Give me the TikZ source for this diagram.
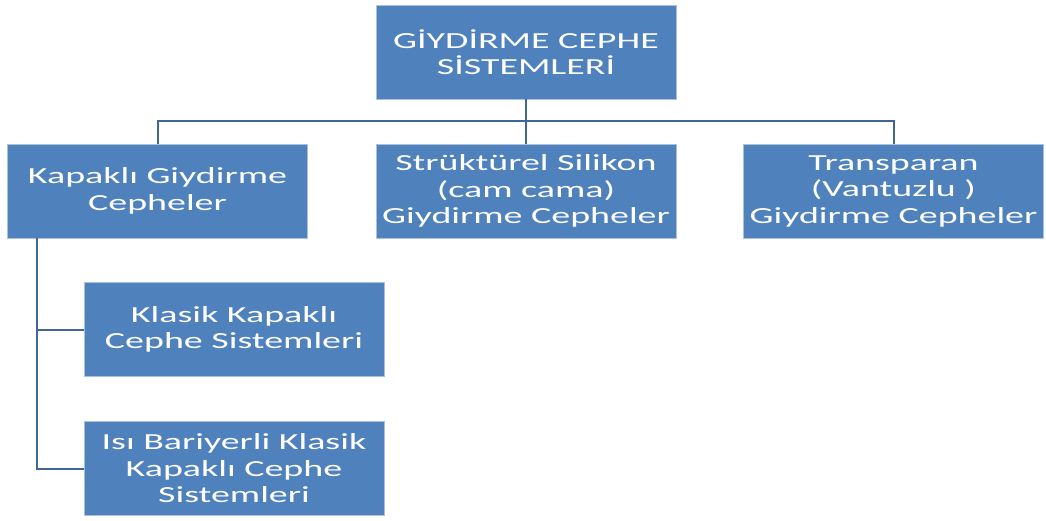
\documentclass[tikz,border=0pt]{standalone}
\usepackage{fontspec}
\setmainfont{Carlito}[FakeStretch=1.65]
\usepackage{xcolor}
\usepackage{tikz}
\usetikzlibrary{calc,positioning}
\definecolor{steel}{HTML}{4F81BD}
\definecolor{rim}{HTML}{A9C0DE}
\definecolor{navy}{HTML}{3F6694}
\tikzset{
  every node/.style={font=\fontsize{23}{26.5}\selectfont},
  box/.style={draw=rim,line width=0.8pt,fill=steel,text=white,align=center,
    minimum width=300pt,minimum height=94pt,inner sep=2pt},
  conn/.style={draw=navy,line width=2pt},
}
\begin{document}
\begin{tikzpicture}[x=1pt,y=-1pt]
  \useasboundingbox (0,0) rectangle (1046,520);
  \node[box] (root) at (526,52) {GİYDİRME CEPHE\\SİSTEMLERİ};
  \node[box] (kap) at (157.5,191) {Kapaklı Giydirme\\Cepheler};
  \node[box] (str) at (526,191) {Strüktürel Silikon\\(cam cama)\\Giydirme Cepheler};
  \node[box] (tra) at (893.5,191) {Transparan\\(Vantuzlu )\\Giydirme Cepheler};
  \node[box] (kls) at (234,329.5) {Klasik Kapaklı\\Cephe Sistemleri};
  \node[box] (isi) at (234,468.5) {Isı Bariyerli Klasik\\Kapaklı Cephe\\Sistemleri};
  \coordinate (bus) at (526,121);
  \coordinate (spine) at ([xshift=30pt]kap.south west);
  \draw[conn] (root.south) -- (bus);
  \draw[conn] (kap.north) |- (bus) -| (tra.north);
  \draw[conn] (bus) -- (str.north);
  \draw[conn] (spine) |- (kls.west);
  \draw[conn] (spine) |- (isi.west);
\end{tikzpicture}
\end{document}
